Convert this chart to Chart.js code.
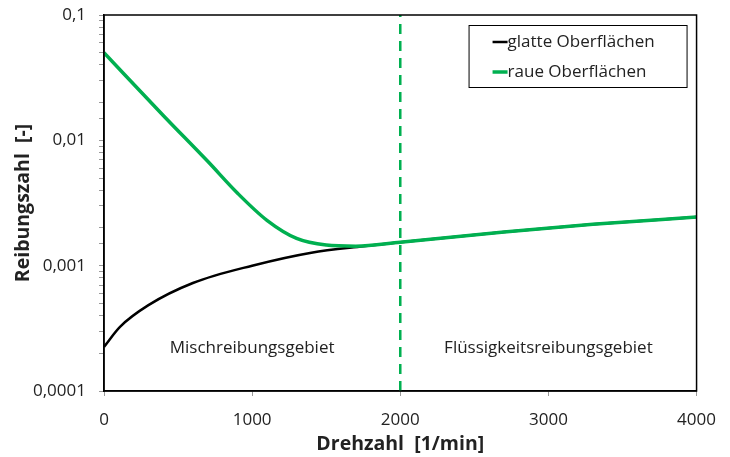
<!DOCTYPE html>
<html>
<head>
<meta charset="utf-8">
<script src="https://cdn.jsdelivr.net/npm/chart.js@4"></script>
<style>
    html, body { margin: 0; padding: 0; background: #fff; }
    #wrap { width: 730px; height: 457px; }
</style>
</head>
<body>
<div id="wrap"><canvas id="frictionChart"></canvas></div>
<script>
// ═══════════════════════════════════════════════════════════════
//  Reibungszahl vs. Drehzahl (Stribeck-Kurve)
// ═══════════════════════════════════════════════════════════════

const glattRpm   = [0, 108, 300, 600, 1000, 1400, 1750, 2000, 2700, 3300, 4000];
const glattValue = [0.000225, 0.000325, 0.000484, 0.000727, 0.00100, 0.00127, 0.00143, 0.00154, 0.00186, 0.00214, 0.00244];

const rauRpm     = [0, 400, 700, 900, 1100, 1300, 1500, 1700, 2000, 2700, 3300, 4000];
const rauValue   = [0.050, 0.0158, 0.0068, 0.0038, 0.0023, 0.00165, 0.00146, 0.00143, 0.00154, 0.00186, 0.00214, 0.00244];

const xTicks     = [0, 1000, 2000, 3000, 4000];
const yDecades   = [0.0001, 0.001, 0.01, 0.1];
const yLabels    = ['0,0001', '0,001', '0,01', '0,1'];

const grenzeRpm  = 2000;
const bereiche   = [
    { text: 'Mischreibungsgebiet',        x: 1000, y: 0.00022 },
    { text: 'Flüssigkeitsreibungsgebiet', x: 3000, y: 0.00022 },
];

const GREEN = '#00b050';
const FONT  = "'Open Sans', sans-serif";

const toPoints = (xs, ys) => xs.map((x, i) => ({ x, y: ys[i] }));

// Rahmen, Legende, Bereichstexte
const decorPlugin = {
    id: 'decor',
    afterDatasetsDraw(chart) {
        const { ctx, chartArea: a, scales } = chart;
        ctx.save();
        ctx.strokeStyle = '#000';
        ctx.lineWidth = 1.5;
        ctx.strokeRect(a.left, a.top, a.right - a.left, a.bottom - a.top);

        // Bereichstexte
        ctx.fillStyle = '#222';
        ctx.font = `17px ${FONT}`;
        ctx.textAlign = 'center';
        ctx.textBaseline = 'middle';
        bereiche.forEach(b => {
            ctx.fillText(b.text, scales.x.getPixelForValue(b.x), scales.y.getPixelForValue(b.y));
        });

        // Legende
        const lx = a.right - 228, ly = a.top + 10, lw = 218, lh = 62;
        ctx.fillStyle = '#fff';
        ctx.fillRect(lx, ly, lw, lh);
        ctx.lineWidth = 1;
        ctx.strokeStyle = '#000';
        ctx.strokeRect(lx + 0.5, ly + 0.5, lw, lh);
        ctx.textAlign = 'left';
        chart.data.datasets.filter(d => d.legend !== false).forEach((d, i) => {
            const y = ly + 17 + i * 30;
            ctx.strokeStyle = d.borderColor;
            ctx.lineWidth = d.borderWidth;
            ctx.beginPath();
            ctx.moveTo(lx + 24, y);
            ctx.lineTo(lx + 39, y);
            ctx.stroke();
            ctx.fillStyle = '#222';
            ctx.fillText(d.label, lx + 39, y);
        });
        ctx.restore();
    },
};

new Chart(document.getElementById('frictionChart'), {
    type: 'line',
    data: {
        datasets: [
            {
                label: 'glatte Oberflächen', data: toPoints(glattRpm, glattValue),
                borderColor: '#000', borderWidth: 2.5, order: 2,
            },
            {
                label: 'raue Oberflächen', data: toPoints(rauRpm, rauValue),
                borderColor: GREEN, borderWidth: 3.5, order: 1,
            },
            {
                label: 'Grenze', legend: false,
                data: [{ x: grenzeRpm, y: yDecades[0] }, { x: grenzeRpm, y: yDecades[yDecades.length - 1] }],
                borderColor: GREEN, borderWidth: 2.5, borderDash: [10, 7], order: 0,
                cubicInterpolationMode: 'default', tension: 0,
            },
        ],
    },
    options: {
        responsive: true,
        maintainAspectRatio: false,
        animation: false,
        layout: { padding: { top: 0, right: 33, left: 8, bottom: 0 } },
        elements: {
            point: { radius: 0 },
            line: { cubicInterpolationMode: 'monotone', fill: false, borderCapStyle: 'butt' },
        },
        plugins: { legend: { display: false }, tooltip: { enabled: false } },
        scales: {
            x: {
                type: 'linear', min: 0, max: 4000,
                afterBuildTicks: s => { s.ticks = xTicks.map(v => ({ value: v })); },
                grid: { drawOnChartArea: false, tickLength: 5, color: '#999', tickColor: '#999' },
                border: { color: '#000', width: 1.5 },
                ticks: {
                    padding: 14, color: '#222', font: { family: FONT, size: 17 },
                    callback: v => String(v),
                },
                title: {
                    display: true, text: 'Drehzahl  [1/min]', color: '#222', padding: { top: 0, bottom: 1 },
                    font: { family: FONT, size: 19.5, weight: 'bold' },
                },
                afterFit: s => { s.height = 66; },
            },
            y: {
                type: 'logarithmic', min: 0.0001, max: 0.1,
                grid: { drawOnChartArea: false, tickLength: 5, color: '#999', tickColor: '#999' },
                border: { color: '#000', width: 1.5 },
                ticks: {
                    padding: 13, color: '#222', autoSkip: false,
                    font: { family: FONT, size: 17 },
                    callback: v => {
                        const i = yDecades.findIndex(d => Math.abs(d - v) / d < 1e-6);
                        return i >= 0 ? yLabels[i] : '';
                    },
                },
                title: {
                    display: true, text: 'Reibungszahl  [-]', color: '#222', padding: { bottom: 2 },
                    font: { family: FONT, size: 19.5, weight: 'bold' },
                },
                afterFit: s => { s.width = 96; s.paddingTop = 15; s.paddingBottom = 10; },
            },
        },
    },
    plugins: [decorPlugin],
});
</script>
</body>
</html>
